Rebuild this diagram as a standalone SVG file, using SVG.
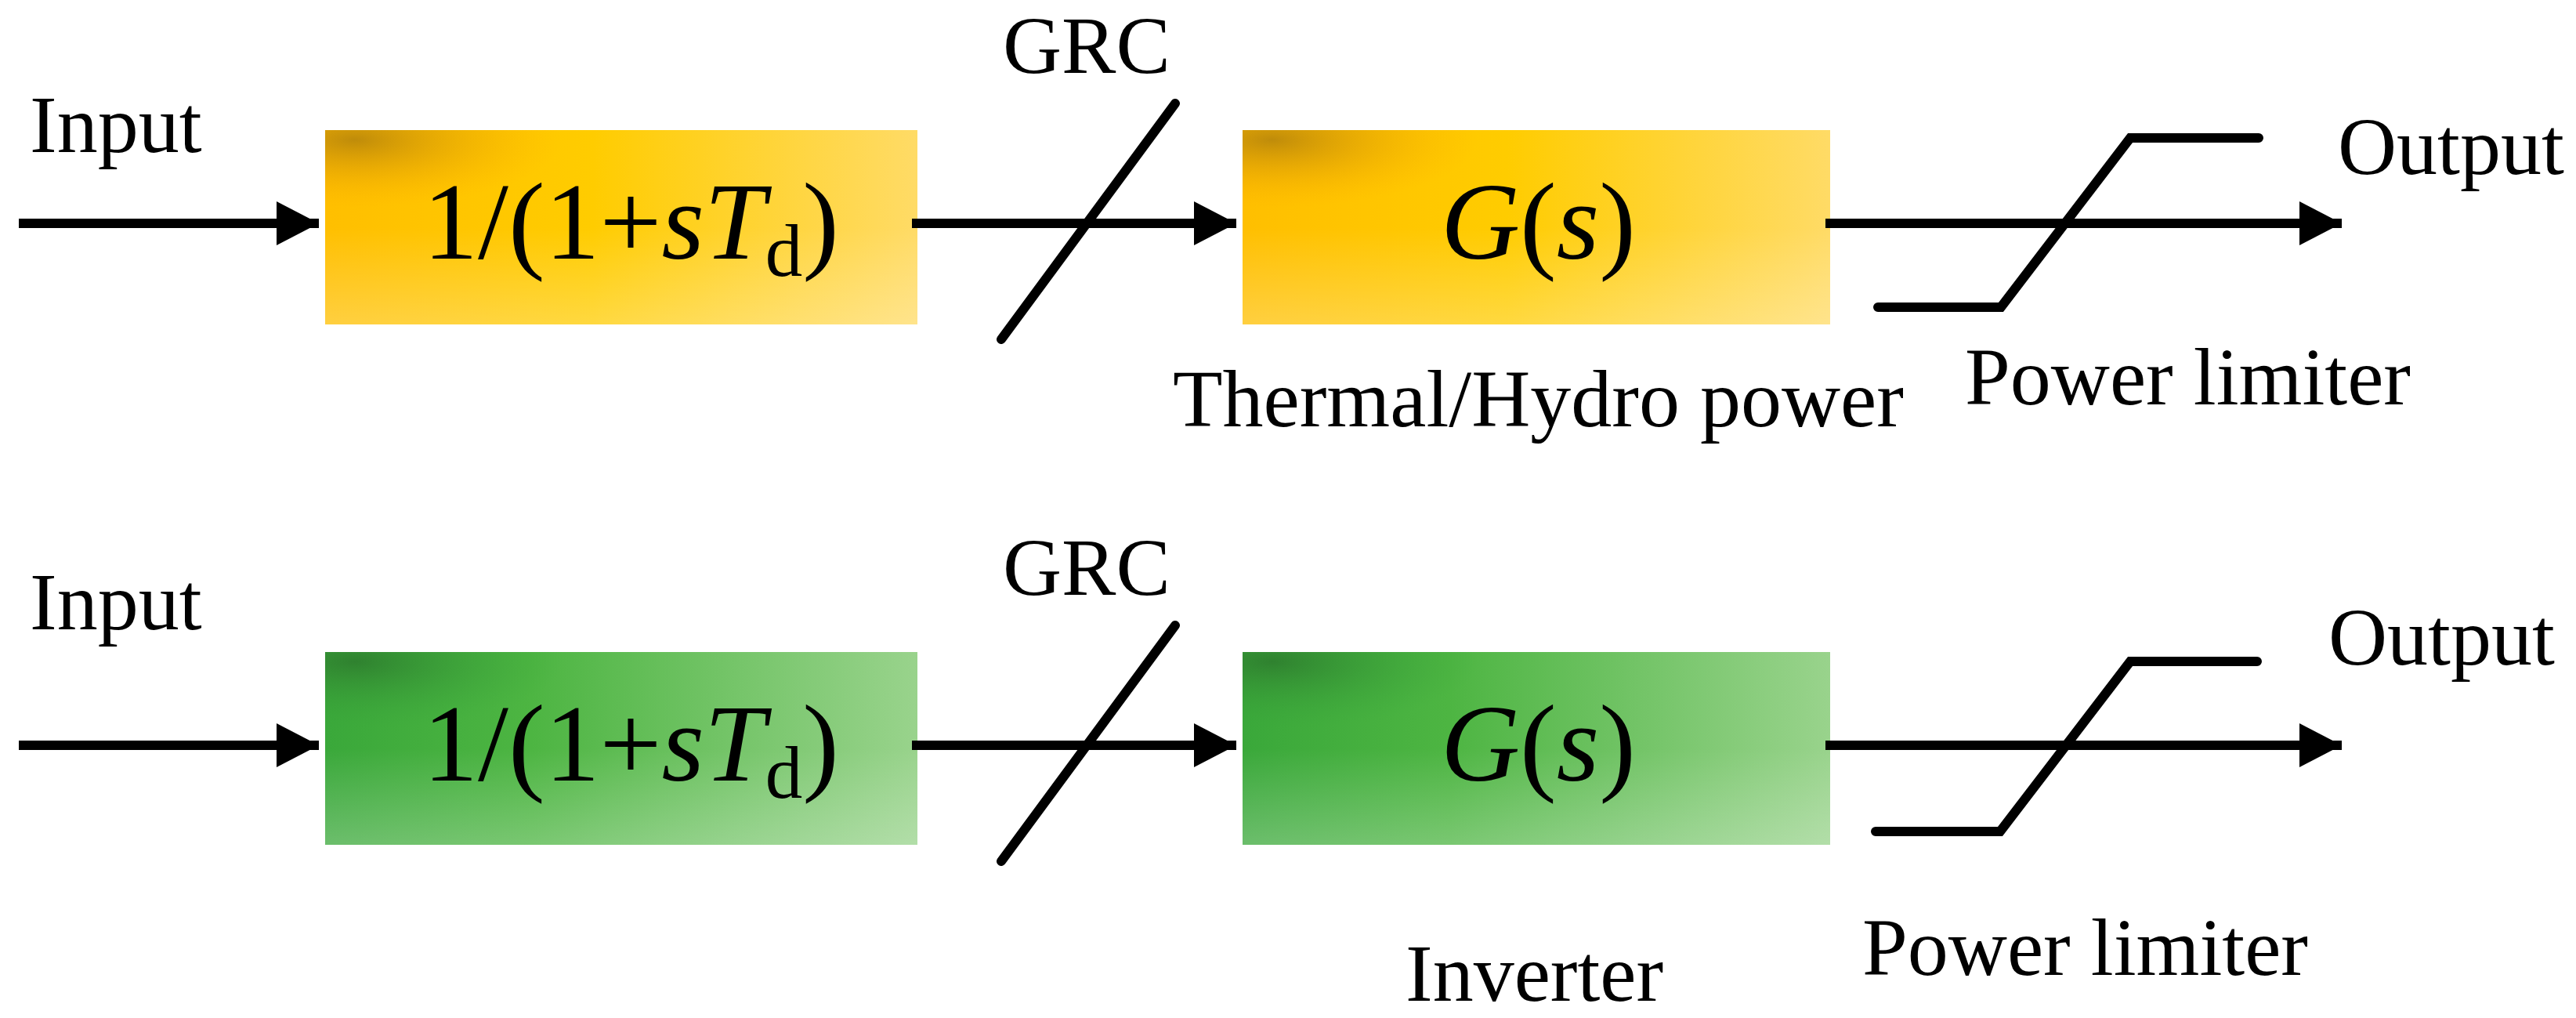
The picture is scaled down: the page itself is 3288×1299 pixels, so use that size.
<svg xmlns="http://www.w3.org/2000/svg" width="3288" height="1299" viewBox="0 0 3288 1299">
<style>
text{font-family:"Liberation Serif","Times New Roman",serif;fill:#000}
.lbl{font-size:104px}
.box{font-size:140px}
.ln{stroke:#000;stroke-width:12;fill:none;stroke-linecap:round}
.ar{stroke:#000;stroke-width:12;fill:none}
</style>
<defs>
<linearGradient id="yl" x1="0" y1="0" x2="1" y2="0"><stop offset="0" stop-color="#ffbf00"/><stop offset="0.45" stop-color="#ffcc00"/><stop offset="1" stop-color="#ffdb66"/></linearGradient>
<linearGradient id="gl" x1="0" y1="0" x2="1" y2="0"><stop offset="0" stop-color="#3aa83a"/><stop offset="0.35" stop-color="#4db542"/><stop offset="1" stop-color="#99d38c"/></linearGradient>
<radialGradient id="ys" cx="0.05" cy="0.05" r="0.35"><stop offset="0" stop-color="#b8860b" stop-opacity="0.9"/><stop offset="1" stop-color="#ffb000" stop-opacity="0"/></radialGradient>
<radialGradient id="gs" cx="0.05" cy="0.05" r="0.35"><stop offset="0" stop-color="#2e7d2e" stop-opacity="0.9"/><stop offset="1" stop-color="#3aa83a" stop-opacity="0"/></radialGradient>
<linearGradient id="fade" x1="0" y1="0" x2="0" y2="1"><stop offset="0.5" stop-color="#fff" stop-opacity="0"/><stop offset="1" stop-color="#fff" stop-opacity="0.25"/></linearGradient>
<marker id="ah" markerUnits="userSpaceOnUse" markerWidth="60" markerHeight="60" refX="54" refY="28" orient="auto"><path d="M0,0 L54,28 L0,56 Z" fill="#000"/></marker>
</defs>

<g id="top-input"><text class="lbl" x="38" y="194">Input</text></g>
<g id="top-filter"><rect x="415" y="166" width="756" height="248" fill="url(#yl)"/><rect x="415" y="166" width="756" height="248" fill="url(#ys)"/><rect x="415" y="166" width="756" height="248" fill="url(#fade)"/>
<text class="box" x="540" y="330">1/(1+<tspan font-style="italic">sT</tspan><tspan font-size="95" dy="22">d</tspan><tspan dy="-22">)</tspan></text></g>
<g id="top-grc"><text class="lbl" x="1280" y="93">GRC</text></g>
<g id="top-plant"><rect x="1586" y="166" width="750" height="248" fill="url(#yl)"/><rect x="1586" y="166" width="750" height="248" fill="url(#ys)"/><rect x="1586" y="166" width="750" height="248" fill="url(#fade)"/>
<text class="box" x="1839" y="330"><tspan font-style="italic">G</tspan>(<tspan font-style="italic">s</tspan>)</text>
<text class="lbl" x="1497" y="544">Thermal/Hydro power</text></g>
<g id="top-limiter"><polyline class="ln" points="2397,392 2554,392 2719,176 2883,176"/><text class="lbl" x="2508" y="516">Power limiter</text></g>
<g id="top-output"><text class="lbl" x="2984" y="222">Output</text></g>

<g id="bot-input"><text class="lbl" x="38" y="803">Input</text></g>
<g id="bot-filter"><rect x="415" y="832" width="756" height="246" fill="url(#gl)"/><rect x="415" y="832" width="756" height="246" fill="url(#gs)"/><rect x="415" y="832" width="756" height="246" fill="url(#fade)"/>
<text class="box" x="540" y="996">1/(1+<tspan font-style="italic">sT</tspan><tspan font-size="95" dy="22">d</tspan><tspan dy="-22">)</tspan></text></g>
<g id="bot-grc"><text class="lbl" x="1280" y="759">GRC</text></g>
<g id="bot-plant"><rect x="1586" y="832" width="750" height="246" fill="url(#gl)"/><rect x="1586" y="832" width="750" height="246" fill="url(#gs)"/><rect x="1586" y="832" width="750" height="246" fill="url(#fade)"/>
<text class="box" x="1839" y="996"><tspan font-style="italic">G</tspan>(<tspan font-style="italic">s</tspan>)</text>
<text class="lbl" x="1794" y="1277">Inverter</text></g>
<g id="bot-limiter"><polyline class="ln" points="2394,1061 2553,1061 2719,844 2881,844"/><text class="lbl" x="2377" y="1244">Power limiter</text></g>
<g id="bot-output"><text class="lbl" x="2972" y="848">Output</text></g>

<g id="connectors">
<line class="ar" x1="24" y1="285" x2="407" y2="285" marker-end="url(#ah)"/>
<line class="ar" x1="1164" y1="285" x2="1578" y2="285" marker-end="url(#ah)"/>
<line class="ar" x1="2330" y1="285" x2="2989" y2="285" marker-end="url(#ah)"/>
<line class="ln" x1="1278" y1="433" x2="1500" y2="132"/>
<line class="ar" x1="24" y1="951" x2="407" y2="951" marker-end="url(#ah)"/>
<line class="ar" x1="1164" y1="951" x2="1578" y2="951" marker-end="url(#ah)"/>
<line class="ar" x1="2330" y1="951" x2="2989" y2="951" marker-end="url(#ah)"/>
<line class="ln" x1="1278" y1="1099" x2="1500" y2="798"/>
</g>
</svg>
